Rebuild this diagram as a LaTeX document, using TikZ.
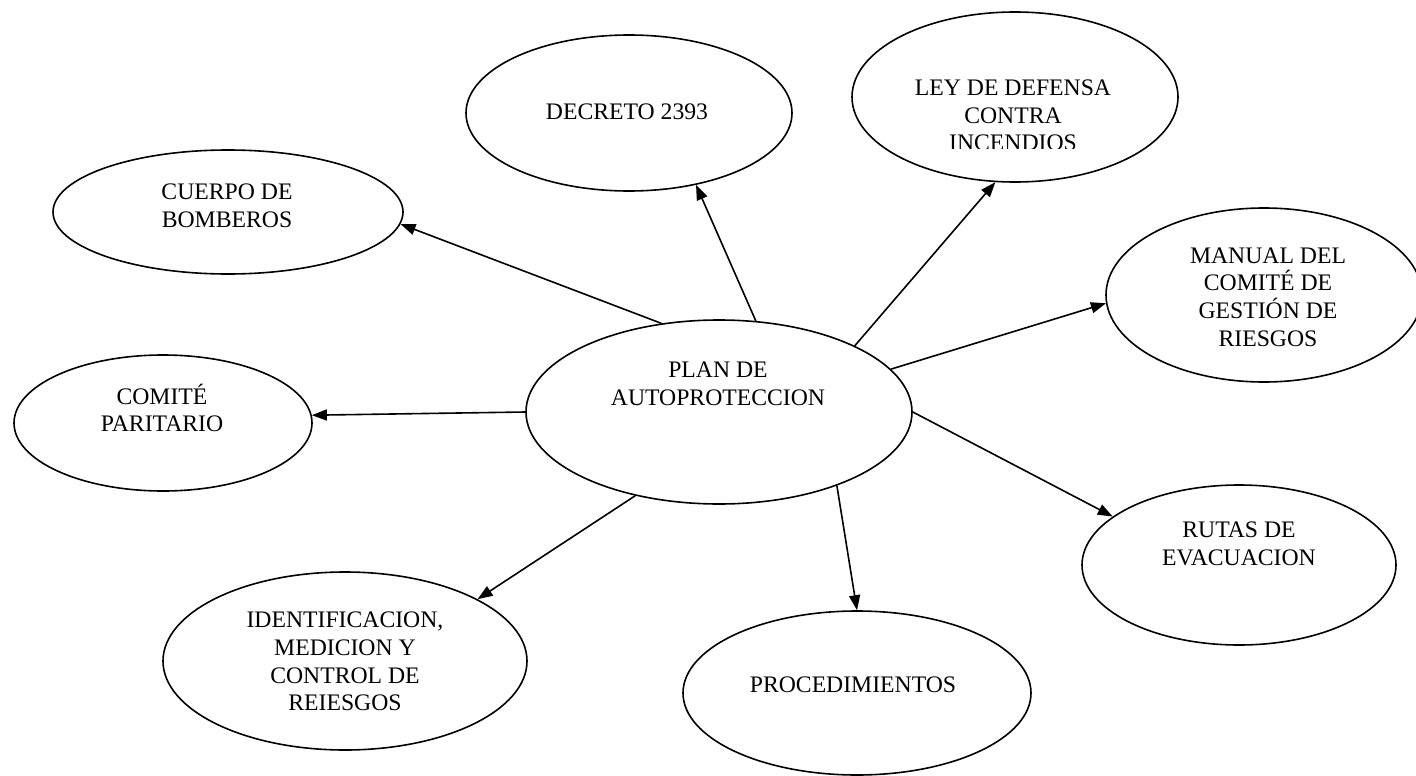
\documentclass[tikz,border=0pt]{standalone}
\usepackage{fontspec}
\setmainfont{Liberation Serif}
\usetikzlibrary{shapes.geometric,arrows.meta}
\begin{document}
\begin{tikzpicture}[x=1pt,y=-1pt,
  bubble/.style={draw, ellipse, line width=1.6pt, inner sep=0pt},
  txt/.style={font=\fontsize{23.7}{27.7}\selectfont, align=center, inner sep=0pt},
  link/.style={line width=1.6pt, -{Triangle[length=15pt,width=11pt]}}]
\useasboundingbox (0,0) rectangle (1416,776);

% bubbles
\node[bubble, minimum width=386pt, minimum height=184pt] (plan) at (719,412) {};
\node[bubble, minimum width=326pt, minimum height=156pt] (dec)  at (629,113) {};
\node[bubble, minimum width=326pt, minimum height=170pt] (ley)  at (1015,97) {};
\node[bubble, minimum width=350pt, minimum height=124pt] (cue)  at (228,212) {};
\node[bubble, minimum width=298pt, minimum height=136pt] (com)  at (163,423) {};
\node[bubble, minimum width=316pt, minimum height=174pt] (man)  at (1264,295) {};
\node[bubble, minimum width=314pt, minimum height=160pt] (rut)  at (1239,565) {};
\node[bubble, minimum width=364pt, minimum height=178pt] (ide)  at (345,661) {};
\node[bubble, minimum width=348pt, minimum height=164pt] (pro)  at (857,693) {};

% texts
\node[txt] (planT) at (718,383.5) {PLAN DE\\AUTOPROTECCION};
\node[txt] (decT)  at (627,112) {DECRETO 2393};
\begin{scope}
  \clip (850,0) rectangle (1190,148);
  \node[txt] (leyT) at (1013,115.5) {LEY DE DEFENSA\\CONTRA\\INCENDIOS};
\end{scope}
\node[txt] (cueT)  at (227,205.5) {CUERPO DE\\BOMBEROS};
\node[txt] (comT)  at (162,408) {COMITÉ\\PARITARIO};
\node[txt] (manT)  at (1268,297) {MANUAL DEL\\COMITÉ DE\\GESTIÓN DE\\RIESGOS};
\node[txt] (rutT)  at (1239,544) {RUTAS DE\\EVACUACION};
\node[txt] (ideT)  at (345,661.5) {IDENTIFICACION,\\MEDICION Y\\CONTROL DE\\REIESGOS};
\node[txt] (proT)  at (853,685) {PROCEDIMIENTOS};

% connectors
\draw[link] (plan.123) -- (cue.-4.9);
\draw[link] (plan.68.2) -- (dec.-47.2);
\draw[link] (plan.26.6) -- (ley.-103.2);
\draw[link] (plan.14.3) -- (man.183.6);
\draw[link] (plan.-0.5) -- (rut.159.2);
\draw[link] (plan.180.6) -- (com.3.5);
\draw[link] (plan.225.3) -- (ide.25.2);
\draw[link] (plan.-32.1) -- (pro.90);
\end{tikzpicture}
\end{document}
